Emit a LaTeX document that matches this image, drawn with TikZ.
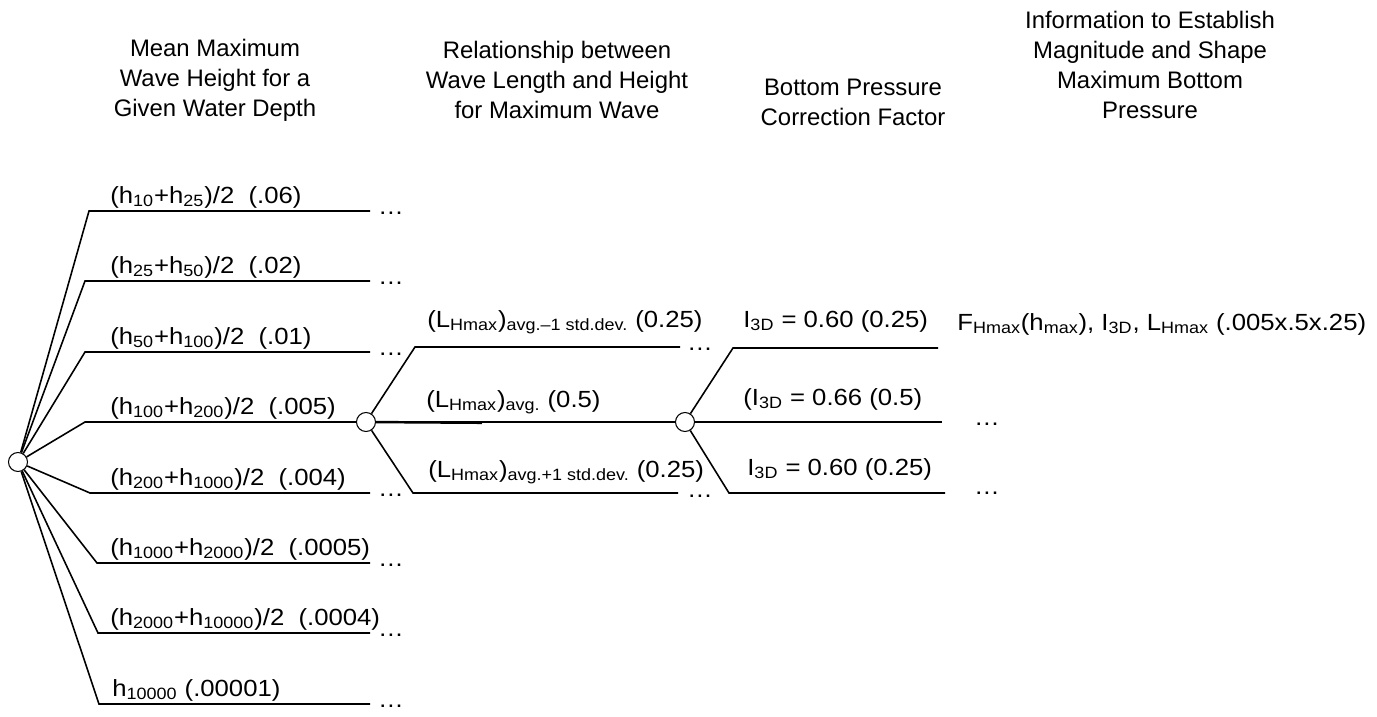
\documentclass[tikz,border=0pt]{standalone}
\usepackage{fontspec}
\setmainfont{Liberation Sans}
\newfontfamily\labelfont[FakeStretch=1.1]{Liberation Sans}
\usetikzlibrary{positioning}
\newcommand{\dn}[1]{\textsubscript{#1}}

\begin{document}
\begin{tikzpicture}[x=0.02cm,y=-0.02cm,
  branch/.style={line width=0.9pt},
  chance/.style={draw,circle,fill=white,line width=0.6pt,minimum size=0.38cm,inner sep=0pt},
  lbl/.style={anchor=base west,inner sep=0pt,font=\labelfont\fontsize{13.3}{16}\selectfont},
  more/.style={inner sep=0pt,font=\labelfont\fontsize{13.3}{16}\selectfont},
  head/.style={align=center,font=\fontsize{13.6}{17}\selectfont}]
\useasboundingbox (0,0) rectangle (1377,717);

% column headings
\node[head] (hdepth) at (215,80) {Mean Maximum\\Wave Height for a\\Given Water Depth};
\node[head] (hlength) at (557,80) {Relationship between\\Wave Length and Height\\for Maximum Wave};
\node[head] (hfactor) at (853,102) {Bottom Pressure\\Correction Factor};
\node[head] (hinfo) at (1150,65) {Information to Establish\\Magnitude and Shape\\Maximum Bottom\\Pressure};

% chance nodes
\node[chance] (root) at (18,462) {};
\node[chance] (split) at (366,422) {};
\node[chance] (corr) at (685,422) {};

% wave height branches
\foreach \n/\xs/\yy in {1/89/211,2/85/281,3/85/352,5/90/493,6/97/563,7/98/633,8/99/704}{
  \coordinate (w\n) at (\xs,\yy);
  \coordinate (e\n) at (370,\yy);
  \draw[branch] (root) -- (w\n) -- (e\n);
  \node[more] (dots\n) at (391,\yy+2) {…};
}
\coordinate (w4) at (85,422);
\draw[branch] (root) -- (w4) -- (split);

\node[lbl] (h1) at (110,203) {(h\dn{10}+h\dn{25})/2\ \ (.06)};
\node[lbl] (h2) at (110,273) {(h\dn{25}+h\dn{50})/2\ \ (.02)};
\node[lbl] (h3) at (110,344) {(h\dn{50}+h\dn{100})/2\ \ (.01)};
\node[lbl] (h4) at (110,414) {(h\dn{100}+h\dn{200})/2\ \ (.005)};
\node[lbl] (h5) at (110,485) {(h\dn{200}+h\dn{1000})/2\ \ (.004)};
\node[lbl] (h6) at (110,555) {(h\dn{1000}+h\dn{2000})/2\ \ (.0005)};
\node[lbl] (h7) at (110,625) {(h\dn{2000}+h\dn{10000})/2\ \ (.0004)};
\node[lbl] (h8) at (112,696) {h\dn{10000} (.00001)};

% wave length branches
\coordinate (u1) at (415,347);
\coordinate (u2) at (680,347);
\coordinate (l1) at (413,493);
\coordinate (l2) at (678,493);
\coordinate (dbl) at (482,422.8);
\draw[branch] (split) -- (u1) -- (u2);
\draw[branch] (split) -- (corr);
\draw[line width=1.4pt] (split) -- (dbl);
\draw[branch] (split) -- (l1) -- (l2);
\node[more] (ldots1) at (700,349) {…};
\node[more] (ldots2) at (700,496) {…};

\node[lbl] (lup) at (427,327) {(L\dn{Hmax})\dn{avg.–1 std.dev.} (0.25)};
\node[lbl] (lmid) at (426,407) {(L\dn{Hmax})\dn{avg.} (0.5)};
\node[lbl] (llow) at (428,477) {(L\dn{Hmax})\dn{avg.+1 std.dev.} (0.25)};

% correction factor branches
\coordinate (a1) at (733,348);
\coordinate (a2) at (938,348);
\coordinate (b2) at (942,422);
\coordinate (c1) at (729,493);
\coordinate (c2) at (945,493);
\draw[branch] (corr) -- (a1) -- (a2);
\draw[branch] (corr) -- (b2);
\draw[branch] (corr) -- (c1) -- (c2);
\node[more] (rdots1) at (987,424) {…};
\node[more] (rdots2) at (987,493) {…};

\node[lbl] (rup) at (743,327) {I\dn{3D} = 0.60 (0.25)};
\node[lbl] (rmid) at (743,405) {(I\dn{3D} = 0.66 (0.5)};
\node[lbl] (rlow) at (747,475) {I\dn{3D} = 0.60 (0.25)};
\node[lbl] (result) at (957,330) {F\dn{Hmax}(h\dn{max}), I\dn{3D}, L\dn{Hmax} (.005x.5x.25)};
\end{tikzpicture}
\end{document}
